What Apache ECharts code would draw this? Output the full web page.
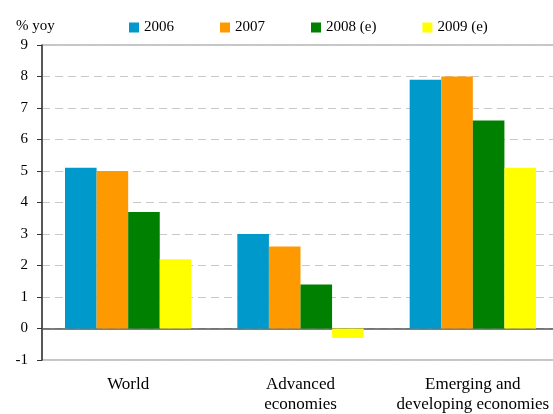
<!DOCTYPE html>
<html>
<head>
<meta charset="utf-8">
<script src="https://cdn.jsdelivr.net/npm/echarts@6/dist/echarts.min.js"></script>
<style>html,body{margin:0;padding:0;background:#fff}#c{width:553px;height:414px}</style>
</head>
<body>
<div id="c"></div>
<script>
const categories = ['World', 'Advanced\neconomies', 'Emerging and\ndeveloping economies'];
const seriesNames = ['2006', '2007', '2008 (e)', '2009 (e)'];
const s2006 = [5.1, 3.0, 7.9];
const s2007 = [5.0, 2.6, 8.0];
const s2008 = [3.7, 1.4, 6.6];
const s2009 = [2.2, -0.3, 5.1];
const colors = ['#0099cc', '#ff9900', '#008000', '#ffff00'];
const yTicks = { min: -1, max: 9, interval: 1 };

const font = 'Liberation Serif, Times New Roman, serif';
const chart = echarts.init(document.getElementById('c'), null, { renderer: 'canvas' });
const allData = [s2006, s2007, s2008, s2009];
chart.setOption({
  animation: false,
  textStyle: { fontFamily: font },
  graphic: [{ type: 'text', left: 16, top: 19, style: { text: '% yoy', font: '15px ' + font, fill: '#000' } }],
  legend: {
    left: 129, top: 20, padding: 0, itemWidth: 10, itemHeight: 10, itemGap: 46,
    icon: 'rect',
    textStyle: { fontFamily: font, fontSize: 15, color: '#000' },
    data: seriesNames
  },
  grid: { left: 42, top: 45, bottom: 54, right: -6, show: true, borderColor: '#8c8c8c', borderWidth: 1, outerBoundsMode: 'none', containLabel: false },
  xAxis: {
    type: 'category', data: categories,
    axisLine: { onZero: true, lineStyle: { color: '#555', width: 1.5 } },
    axisTick: { inside: true, length: 4, lineStyle: { color: '#000' } },
    axisLabel: { interval: 0, hideOverlap: false, margin: 15, fontFamily: font, fontSize: 17, color: '#000', lineHeight: 20 },
    splitLine: { show: false }
  },
  yAxis: {
    type: 'value', min: yTicks.min, max: yTicks.max, interval: yTicks.interval,
    axisLine: { show: true, lineStyle: { color: '#333', width: 1.5 } },
    axisTick: { show: true, length: 5, lineStyle: { color: '#333' } },
    axisLabel: { margin: 14, fontFamily: font, fontSize: 15, color: '#000' },
    splitLine: { show: true, lineStyle: { color: '#c8c8c8', type: [8, 5], width: 1 } }
  },
  series: seriesNames.map((n, i) => ({
    name: n, type: 'bar', data: allData[i],
    itemStyle: { color: colors[i] },
    barGap: '0%', barCategoryGap: '26.7%'
  }))
});
</script>
</body>
</html>
